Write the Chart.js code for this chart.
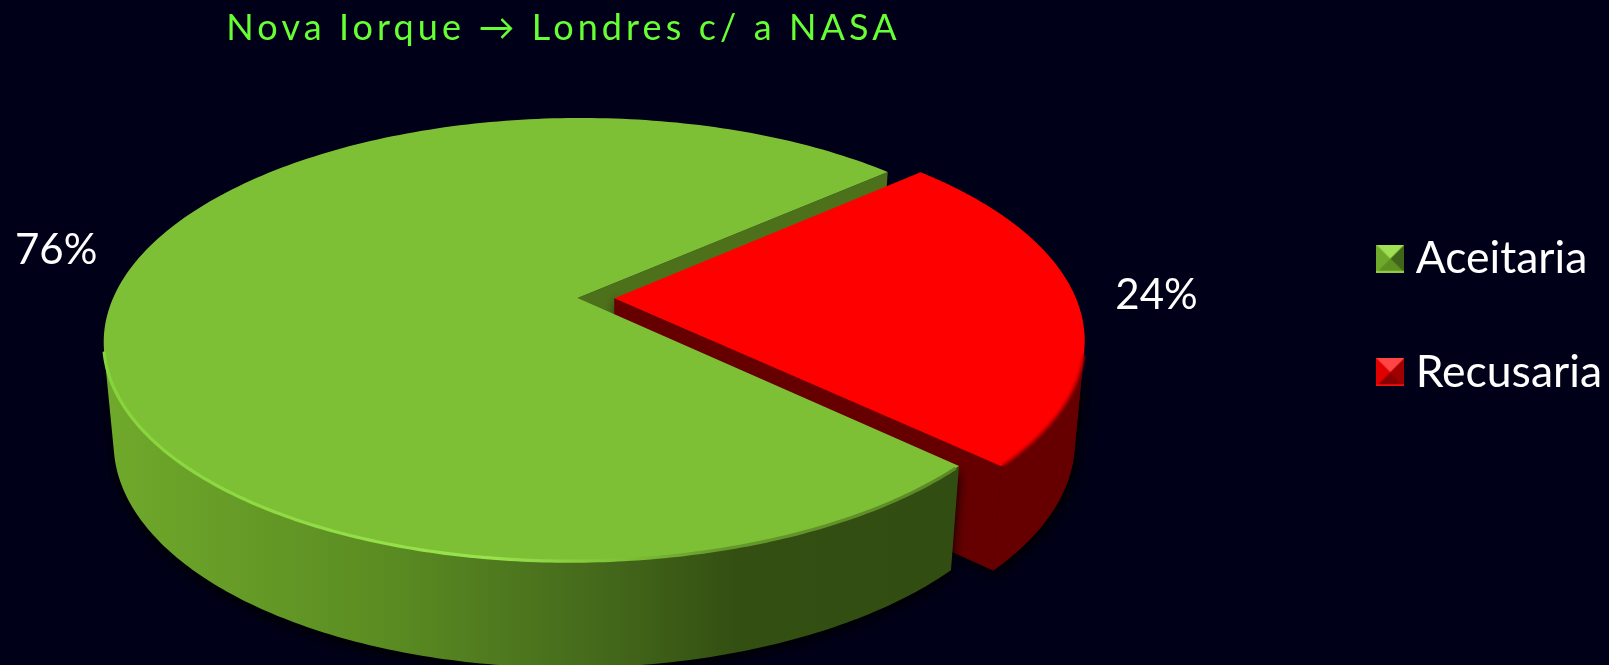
<!DOCTYPE html>
<html><head><meta charset="utf-8">
<style>html,body{margin:0;padding:0;background:#000018;overflow:hidden}canvas{display:block}</style>
<script src="https://cdn.jsdelivr.net/npm/chart.js@4/dist/chart.umd.js"></script>
</head><body><canvas id="c" width="1609" height="665"></canvas>
<script>
const categories = ['Aceitaria', 'Recusaria'];
const shares = [76.4, 23.6];
const titleText = 'Nova Iorque \u2192 Londres c/ a NASA';

const FONT = "Lato, 'DejaVu Sans', sans-serif";
const BG = '#000018';
// Perspective view of the pie's unit disc
const view = {cx: 577.5, cy: 298, a: 463, b: 213.8, k: 0.1875, j: 0.003, s: -5};
const skin = [
  {top: '#7DC035', wall: '#4D701B'},
  {top: '#FF0000', wall: '#660000'}
];
function topPt(u, v) {
  const w = 1 - view.k * v + view.j * u;
  return {x: view.cx + (view.a * u + view.s * v) / w, y: view.cy + view.b * v / w};
}
function lowPt(p, x0) {
  return {x: x0 + 0.979 * (p.x - x0), y: p.y + 100 + 0.025 * (p.y - view.cy)};
}
function rim(s, a0, a1, n) {
  const pts = [];
  for (let i = 0; i <= n; i++) {
    const t = a0 + (a1 - a0) * i / n;
    pts.push(topPt(s.du + Math.cos(t), s.dv + Math.sin(t)));
  }
  return pts;
}
// Walk along the rim until the extrusion stops facing the viewer
function silhouette(s, from, to) {
  const pts = rim(s, from, to, 600);
  let sign = 0;
  for (let i = 0; i < 600; i++) {
    const p = pts[i], q = pts[i + 1], l = lowPt(p, s.apex.x);
    const c = (q.x - p.x) * (l.y - p.y) - (q.y - p.y) * (l.x - p.x);
    if (!sign) sign = Math.sign(c);
    else if (Math.sign(c) !== sign) return from + (to - from) * i / 600;
  }
  return to;
}
function trace(ctx, pts) {
  ctx.beginPath();
  pts.forEach((p, i) => i ? ctx.lineTo(p.x, p.y) : ctx.moveTo(p.x, p.y));
}
function sideOf(ctx, s, a0, a1, fill) {
  const r = rim(s, a0, a1, 160);
  trace(ctx, r.concat(r.map(p => lowPt(p, s.apex.x)).reverse()));
  ctx.closePath();
  ctx.fillStyle = fill;
  ctx.fill();
}
function wallOf(ctx, s, ang, fill) {
  const p = topPt(s.du + Math.cos(ang), s.dv + Math.sin(ang));
  trace(ctx, [s.apex, p, lowPt(p, s.apex.x), lowPt(s.apex, s.apex.x)]);
  ctx.closePath();
  ctx.fillStyle = fill;
  ctx.fill();
}
function topOf(ctx, s) {
  trace(ctx, [s.apex].concat(rim(s, s.a0, s.a1, 240)));
  ctx.closePath();
  ctx.fillStyle = s.skin.top;
  ctx.fill();
}
function sliceGeom(chart, i) {
  const el = chart.getDatasetMeta(0).data[i];
  const mid = (el.startAngle + el.endAngle) / 2;
  const off = (el.options.offset || 0) / view.a;
  const du = off * Math.cos(mid), dv = off * Math.sin(mid);
  return {du, dv, a0: el.startAngle, a1: el.endAngle, mid, apex: topPt(du, dv), skin: skin[i]};
}
function bevelIcon(base, light, dark, mid, foot) {
  const c = document.createElement('canvas');
  c.width = 28; c.height = 28;
  const g = c.getContext('2d');
  const tri = (pts, f) => { g.beginPath(); pts.forEach((p, i) => i ? g.lineTo(p[0], p[1]) : g.moveTo(p[0], p[1])); g.closePath(); g.fillStyle = f; g.fill(); };
  g.fillStyle = base; g.fillRect(0, 0, 28, 28);
  tri([[0, 0], [28, 0], [14, 14]], light);
  tri([[28, 0], [28, 28], [14, 14]], dark);
  tri([[0, 28], [28, 28], [14, 14]], mid);
  g.fillStyle = foot; g.fillRect(0, 26, 28, 2);
  return c;
}
const icons = [
  bevelIcon('#6FA92B', '#A0E055', '#3F6518', '#5C8E22', '#8CCB42'),
  bevelIcon('#E00000', '#FF4545', '#A00000', '#8A0000', '#F01010')
];

const pie3d = {
  id: 'pie3d',
  afterInit(chart) {
    const shift = (box, dx, dy, spacing) => {
      const d = box.draw;
      box.draw = function (area) {
        const ctx = this.ctx;
        ctx.save();
        ctx.translate(dx, dy);
        if (spacing) ctx.letterSpacing = spacing;
        d.call(this, area);
        ctx.restore();
      };
    };
    shift(chart.titleBlock, -241, -1, '4.1px');
    shift(chart.legend, 3, -17, '');
  },
  beforeDraw(chart) {
    chart.ctx.save();
    chart.ctx.fillStyle = BG;
    chart.ctx.fillRect(0, 0, chart.width, chart.height);
    chart.ctx.restore();
  },
  beforeDatasetsDraw(chart) {
    const ctx = chart.ctx;
    const g = sliceGeom(chart, 0), r = sliceGeom(chart, 1);
    const redStart = silhouette(r, r.a1, r.a0);
    const greenEnd = silhouette(g, g.a0, g.a1);
    ctx.save();
    // back wall of the large slice, seen through the gap
    wallOf(ctx, g, g.a1, g.skin.wall);
    // exploded slice
    const redBody = () => {
      sideOf(ctx, r, redStart, r.a1, r.skin.wall);
      wallOf(ctx, r, r.a1, r.skin.wall);
    };
    ctx.save();
    ctx.shadowColor = 'rgba(0,0,0,0.95)'; ctx.shadowBlur = 12; ctx.shadowOffsetX = 3; ctx.shadowOffsetY = 4;
    redBody();
    ctx.restore();
    redBody();
    topOf(ctx, r);
    ctx.save();
    ctx.filter = 'blur(0.8px)';
    trace(ctx, rim(r, redStart + 0.02, r.a1 - 0.005, 80));
    ctx.strokeStyle = 'rgba(190,0,0,0.95)'; ctx.lineWidth = 3; ctx.lineCap = 'butt';
    ctx.stroke();
    ctx.restore();
    // large slice
    const grad = ctx.createLinearGradient(101, 0, 961, 0);
    grad.addColorStop(0, '#70AA2B');
    grad.addColorStop(0.34, '#5A8B22');
    grad.addColorStop(0.58, '#44691B');
    grad.addColorStop(0.74, '#344F12');
    grad.addColorStop(1, '#324D11');
    ctx.save();
    ctx.shadowColor = 'rgba(0,0,0,0.95)'; ctx.shadowBlur = 12; ctx.shadowOffsetX = 0; ctx.shadowOffsetY = 5;
    sideOf(ctx, g, g.a0, greenEnd, grad);
    ctx.restore();
    topOf(ctx, g);
    const edge = ctx.createLinearGradient(101, 0, 961, 0);
    edge.addColorStop(0, '#86D43C');
    edge.addColorStop(0.45, '#9BE34E');
    edge.addColorStop(0.6, '#80C238');
    edge.addColorStop(0.72, '#66992B');
    edge.addColorStop(1, '#5A8826');
    ctx.save();
    ctx.filter = 'blur(0.7px)';
    trace(ctx, rim(g, g.a0 + 0.01, greenEnd, 180));
    ctx.strokeStyle = edge; ctx.lineWidth = 3.2; ctx.lineCap = 'butt';
    ctx.stroke();
    ctx.restore();
    ctx.restore();
    return false;
  },
  afterDraw(chart) {
    const ctx = chart.ctx;
    const g = sliceGeom(chart, 0), r = sliceGeom(chart, 1);
    const total = shares.reduce((s, x) => s + x, 0);
    const anchors = [
      {p: topPt(g.du - 1, g.dv), dx: -57, dy: -48, i: 0},
      {p: topPt(r.du + 1, r.dv), dx: 80.5, dy: -3, i: 1}
    ];
    ctx.save();
    ctx.font = '42px ' + FONT;
    ctx.fillStyle = '#FFFFFF';
    ctx.textAlign = 'center';
    ctx.textBaseline = 'middle';
    anchors.forEach(o => ctx.fillText(Math.round(shares[o.i] / total * 100) + '%', o.p.x + o.dx, o.p.y + o.dy));
    ctx.restore();
  }
};

new Chart(document.getElementById('c'), {
  type: 'pie',
  data: {
    labels: categories,
    datasets: [{
      data: shares,
      backgroundColor: skin.map(s => s.top),
      borderWidth: 0,
      offset: [0, 37]
    }]
  },
  options: {
    responsive: false,
    animation: false,
    rotation: 133.36,
    layout: {padding: 0},
    events: [],
    plugins: {
      tooltip: {enabled: false},
      title: {
        display: true,
        text: titleText,
        color: '#66FF33',
        font: {family: FONT, size: 36, weight: 'normal'},
        padding: {top: 8, bottom: 6}
      },
      legend: {
        display: true,
        position: 'right',
        labels: {
          color: '#FFFFFF',
          font: {family: FONT, size: 44.5},
          usePointStyle: true,
          boxWidth: 6,
          padding: 69,
          generateLabels(chart) {
            return Chart.overrides.doughnut.plugins.legend.labels.generateLabels(chart)
              .map((it, i) => Object.assign(it, {pointStyle: icons[i]}));
          }
        }
      }
    }
  },
  plugins: [pie3d]
});
</script></body></html>
